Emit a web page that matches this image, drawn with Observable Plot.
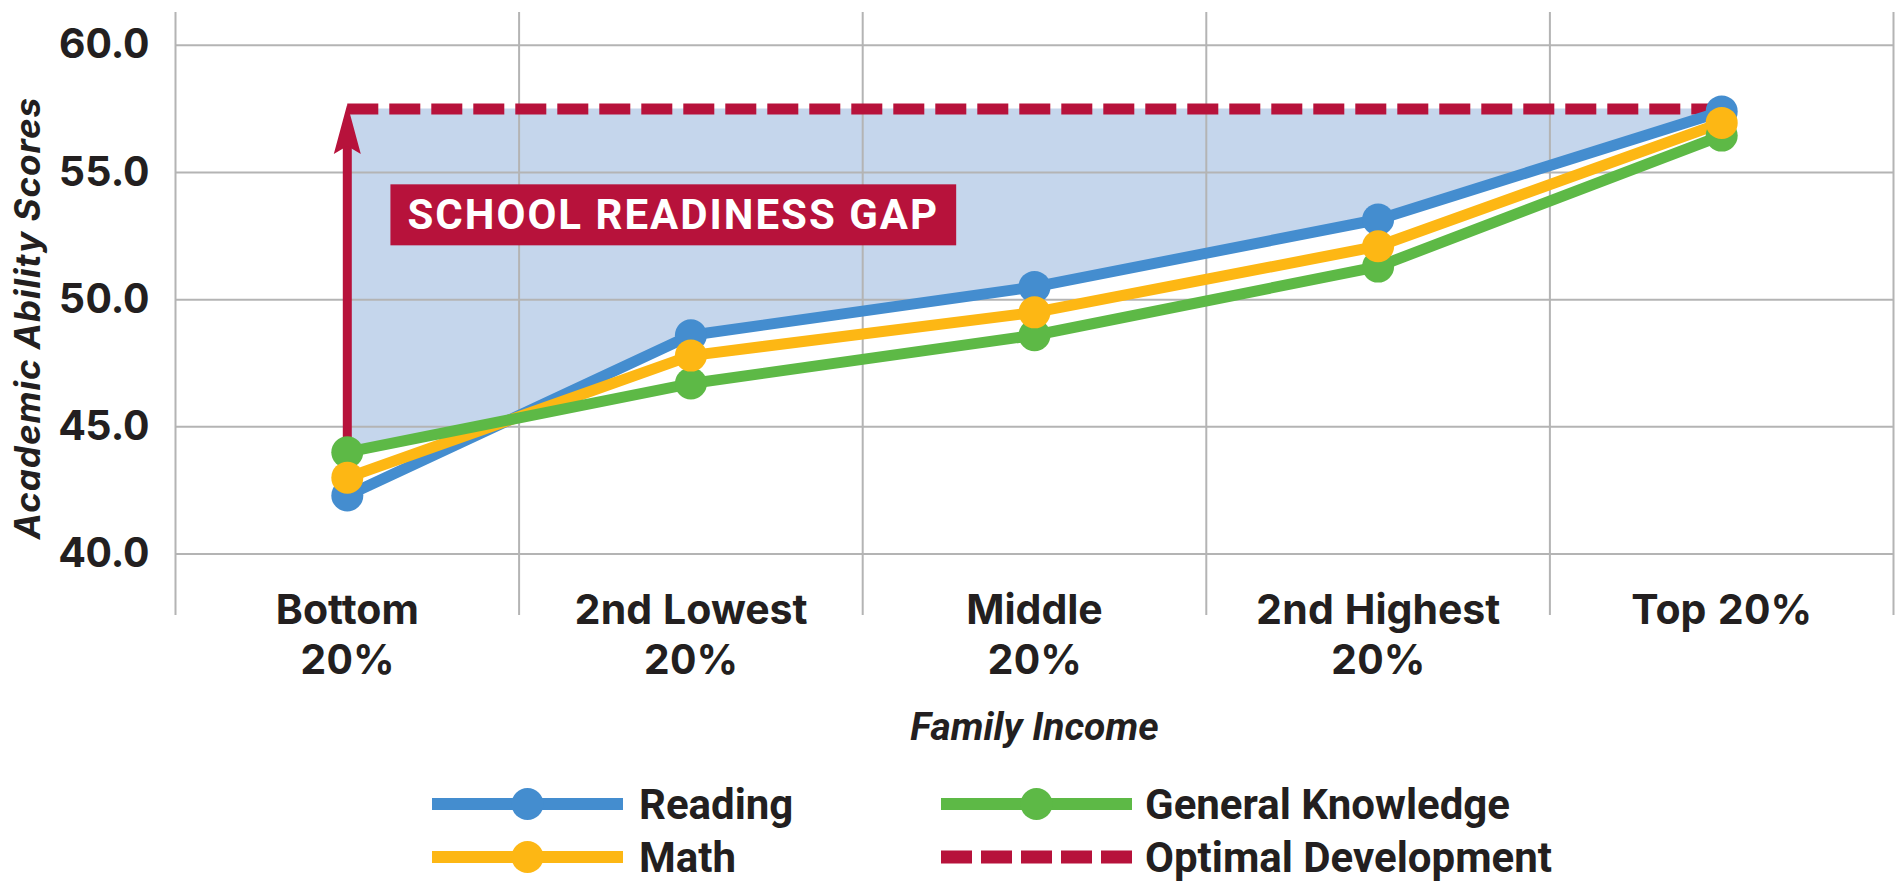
<!DOCTYPE html>
<html><head><meta charset="utf-8">
<script src="https://cdn.jsdelivr.net/npm/d3@7"></script>
<script src="https://cdn.jsdelivr.net/npm/@observablehq/plot@0.6"></script>
<style>
html,body{margin:0;padding:0;background:#fff;}
#chart svg{display:block;}
</style></head><body><div id="chart"></div>
<script>
// ---- data ----
const categories = ["Bottom\n20%", "2nd Lowest\n20%", "Middle\n20%", "2nd Highest\n20%", "Top 20%"];
const reading = [42.3, 48.6, 50.5, 53.15, 57.4];
const math = [43.0, 47.8, 49.5, 52.1, 56.95];
const generalKnowledge = [44.0, 46.7, 48.6, 51.3, 56.45];
const optimal = 57.5;
const yTicks = [40, 45, 50, 55, 60];
const seriesNames = ["Reading", "Math", "General Knowledge"];
const optimalName = "Optimal Development";
const gapLabel = "SCHOOL READINESS GAP";
const xTitle = "Family Income";
const yTitle = "Academic Ability Scores";

// ---- styles ----
const colors = {"Reading": "#448dcf", "Math": "#fdb714", "General Knowledge": "#5db946", "Optimal": "#b7123b"};
const gridColor = "#b4b4b4";
const areaColor = "#c5d6ec";
const ink = "#231f20";

const n = categories.length;
const seriesValues = {"Reading": reading, "Math": math, "General Knowledge": generalKnowledge};
const rows = seriesNames.flatMap(name => seriesValues[name].map((v, i) => ({name, x: i, y: v})));

// upper envelope of the three series (with crossing points), used as bottom of the gap area
const all = seriesNames.map(k => seriesValues[k]);
const envelope = [];
for (let i = 0; i < n; i++) {
  envelope.push({x: i, y: Math.max(...all.map(s => s[i]))});
  if (i < n - 1) {
    const ts = [];
    for (let a = 0; a < all.length; a++) for (let b = a + 1; b < all.length; b++) {
      const d0 = all[a][i] - all[b][i], d1 = all[a][i + 1] - all[b][i + 1];
      if (d0 * d1 < 0) ts.push(d0 / (d0 - d1));
    }
    ts.sort((p, q) => p - q).forEach(t =>
      envelope.push({x: i + t, y: Math.max(...all.map(s => s[i] + t * (s[i + 1] - s[i])))}));
  }
}
const optimalLine = categories.map((c, i) => ({x: i, y: optimal}));
const arrowData = [{x: 0, y1: optimal, y2: envelope[0].y}];

const arrowHead = {draw(ctx) {
  ctx.moveTo(0, -5); ctx.lineTo(13.5, 45); ctx.lineTo(0, 37); ctx.lineTo(-13.5, 45); ctx.closePath();
}};

const lineOrder = ["Reading", "Math", "General Knowledge"];
const dotOrder = ["Reading", "General Knowledge", "Math"];

const chart = Plot.plot({
  width: 1899,
  height: 760,
  marginLeft: 175,
  marginRight: 6,
  marginTop: 12,
  marginBottom: 145,
  style: {fontFamily: "Inter, sans-serif", color: ink, background: "#fff", overflow: "visible"},
  x: {domain: [-0.5, n - 0.5]},
  y: {domain: [37.58, 61.29]},
  marks: [
    Plot.areaY(envelope, {x: "x", y1: "y", y2: () => optimal, fill: areaColor}),
    Plot.ruleY(yTicks, {stroke: gridColor, strokeWidth: 2}),
    Plot.ruleX(d3.range(-0.5, n, 1), {stroke: gridColor, strokeWidth: 2}),
    Plot.axisY({ticks: yTicks, tickFormat: d3.format(".1f"), tickSize: 0, tickPadding: 26,
      fontSize: 41, fontWeight: 700, label: null}),
    Plot.axisX({ticks: d3.range(n), tickFormat: i => categories[i], tickSize: 0, tickPadding: -26,
      fontSize: 41, fontWeight: 700, lineHeight: 1.2, label: null}),
    Plot.text([yTitle], {text: d => d, frameAnchor: "left", rotate: -90, dx: -147, dy: 4,
      fontSize: 35, fontStyle: "italic", fontWeight: 700, textAnchor: "middle", lineAnchor: "middle", fill: ink}),
    Plot.text([xTitle], {text: d => d, frameAnchor: "bottom", dy: 112, fontFamily: "Roboto",
      fontSize: 39, fontStyle: "italic", fontWeight: 700, lineAnchor: "middle", fill: ink}),
    Plot.text([gapLabel], {text: d => d, x: () => 0, y: () => optimal, dx: 326, dy: 107,
      fontFamily: "Roboto", fontSize: 42, fontWeight: 700, fill: "#fff", textAnchor: "middle", lineAnchor: "middle"}),
    Plot.line(optimalLine, {x: "x", y: "y", stroke: colors.Optimal, strokeWidth: 11,
      strokeDasharray: "31,11", strokeLinecap: "butt"}),
    Plot.ruleX(arrowData, {x: "x", y1: "y1", y2: "y2", insetTop: 30, stroke: colors.Optimal, strokeWidth: 9}),
    Plot.dot(arrowData, {x: "x", y: "y1", symbol: arrowHead, fill: colors.Optimal, r: 10}),
    ...lineOrder.map(name => Plot.line(rows.filter(d => d.name === name),
      {x: "x", y: "y", stroke: colors[name], strokeWidth: 11, strokeLinejoin: "round", strokeLinecap: "round"})),
    ...dotOrder.map(name => Plot.dot(rows.filter(d => d.name === name),
      {x: "x", y: "y", fill: colors[name], r: 16}))
  ]
});
document.getElementById("chart").append(chart);

// letter spacing on titles
const findText = s => [...chart.querySelectorAll("text")].find(el => el.textContent === s);
const yt = findText(yTitle); if (yt) yt.style.letterSpacing = "1px";

// red box behind the gap label
const gapText = findText(gapLabel);
if (gapText) {
  gapText.style.letterSpacing = "2px";
  const bb = gapText.getBBox();
  const rect = document.createElementNS("http://www.w3.org/2000/svg", "rect");
  const cy = bb.y + bb.height / 2;
  rect.setAttribute("x", bb.x - 17);
  rect.setAttribute("width", bb.width + 34);
  rect.setAttribute("y", cy - 30.5);
  rect.setAttribute("height", 61);
  rect.setAttribute("fill", colors.Optimal);
  if (gapText.getAttribute("transform")) rect.setAttribute("transform", gapText.getAttribute("transform"));
  gapText.parentNode.insertBefore(rect, gapText);
}

// ---- legend below ----
const legendItems = [
  {name: seriesNames[0], col: 0, row: 0},
  {name: seriesNames[1], col: 0, row: 1},
  {name: seriesNames[2], col: 1, row: 0},
  {name: optimalName, col: 1, row: 1, dashed: true}
];
const colX = [432, 941], textX = [639, 1145], rowY = [44, 97];
const leg = d3.select("#chart").append("svg").attr("width", 1899).attr("height", 122)
  .style("display", "block").style("font-family", "Roboto, sans-serif");
for (const it of legendItems) {
  const g = leg.append("g");
  const x0 = colX[it.col], y0 = rowY[it.row];
  const c = it.dashed ? colors.Optimal : colors[it.name];
  g.append("line").attr("x1", x0).attr("x2", x0 + 191).attr("y1", y0).attr("y2", y0)
    .attr("stroke", c).attr("stroke-width", it.dashed ? 13 : 12)
    .attr("stroke-dasharray", it.dashed ? "31,9" : null);
  if (!it.dashed) g.append("circle").attr("cx", x0 + 95.5).attr("cy", y0).attr("r", 16).attr("fill", c);
  g.append("text").attr("x", textX[it.col]).attr("y", y0 + 15).attr("fill", ink)
    .attr("font-size", 42).attr("font-weight", 700).text(it.name);
}
</script></body></html>
